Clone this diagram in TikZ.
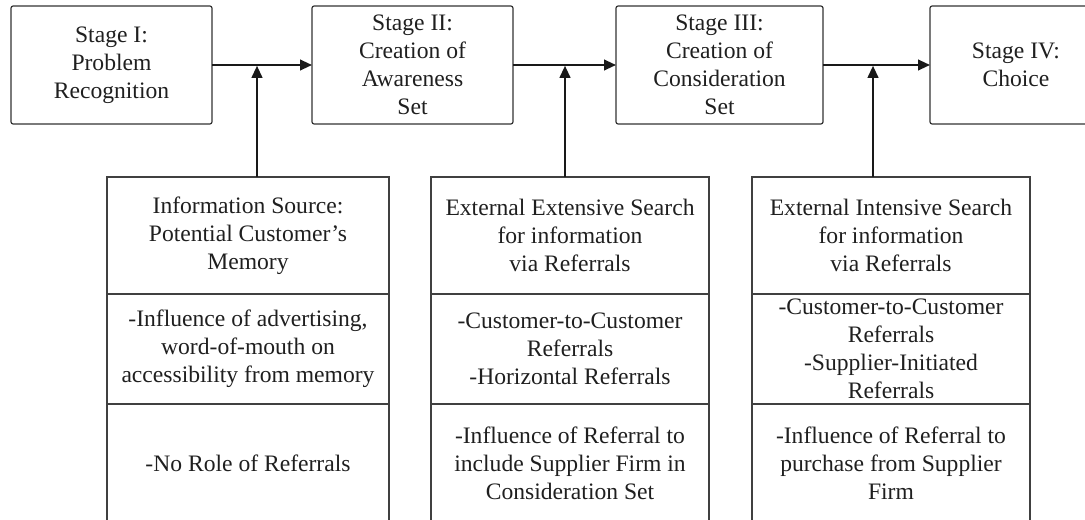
\documentclass[tikz,border=0pt]{standalone}
\usepackage{fontspec}
\setmainfont{Liberation Serif}
\usetikzlibrary{arrows.meta}
\begin{document}
\begin{tikzpicture}[x=0.75pt,y=-0.75pt,
  every node/.style={inner sep=0pt,outer sep=0pt,align=center,
    font=\fontsize{17.7}{21}\selectfont,text=black!88},
  stagebox/.style={draw=black!80,line width=0.9pt,rounded corners=1.6pt,
    minimum height=88.5pt},
  infobox/.style={draw=black!75,line width=0.9pt},
  headcell/.style={infobox,minimum height=87.75pt},
  midcell/.style={infobox,minimum height=82.5pt},
  lowcell/.style={infobox,minimum height=88.5pt},
  arr/.style={draw=black!90,line width=1.5pt,
    -{Triangle[length=9pt,width=8pt]}}]
\useasboundingbox (0,0) rectangle (1085,520);

% the four stages of the decision process
\node[stagebox,minimum width=150.75pt] (s1) at (111.5,65) {Stage I:\\Problem\\Recognition};
\node[stagebox,minimum width=150.75pt] (s2) at (412.5,65) {Stage II:\\Creation of\\Awareness\\Set};
\node[stagebox,minimum width=155.25pt] (s3) at (719.5,65) {Stage III:\\Creation of\\Consideration\\Set};
\node[stagebox,minimum width=129pt] (s4) at (1016,65) {Stage IV:\\Choice};

% information sources feeding each transition
\node[headcell,minimum width=211.5pt] (a1) at (248,235.5) {Information Source:\\Potential Customer’s\\Memory};
\node[midcell,minimum width=211.5pt] (a2) at (248,349) {-Influence of advertising,\\word-of-mouth on\\accessibility from memory};
\node[lowcell,minimum width=211.5pt] (a3) at (248,463) {-No Role of Referrals};

\node[headcell,minimum width=208.5pt] (b1) at (570,235.5) {External Extensive Search\\for information\\via Referrals};
\node[midcell,minimum width=208.5pt] (b2) at (570,349) {-Customer-to-Customer\\Referrals\\-Horizontal Referrals};
\node[lowcell,minimum width=208.5pt] (b3) at (570,463) {-Influence of Referral to\\include Supplier Firm in\\Consideration Set};

\node[headcell,minimum width=208.5pt] (c1) at (891,235.5) {External Intensive Search\\for information\\via Referrals};
\node[midcell,minimum width=208.5pt] (c2) at (891,349) {-Customer-to-Customer\\Referrals\\-Supplier-Initiated\\Referrals};
\node[lowcell,minimum width=208.5pt] (c3) at (891,463) {-Influence of Referral to\\purchase from Supplier\\Firm};

% junctions on the main flow
\coordinate (j1) at (257,65);
\coordinate (j2) at (565,65);
\coordinate (j3) at (873,65);

% main flow
\draw[arr] (s1.east) -- (s2.west);
\draw[arr] (s2.east) -- (s3.west);
\draw[arr] (s3.east) -- (s4.west);

% inputs from below
\draw[arr] (a1.north -| j1) -- ([yshift=-0.6pt]j1);
\draw[arr] (b1.north -| j2) -- ([yshift=-0.6pt]j2);
\draw[arr] (c1.north -| j3) -- ([yshift=-0.6pt]j3);
\end{tikzpicture}
\end{document}
